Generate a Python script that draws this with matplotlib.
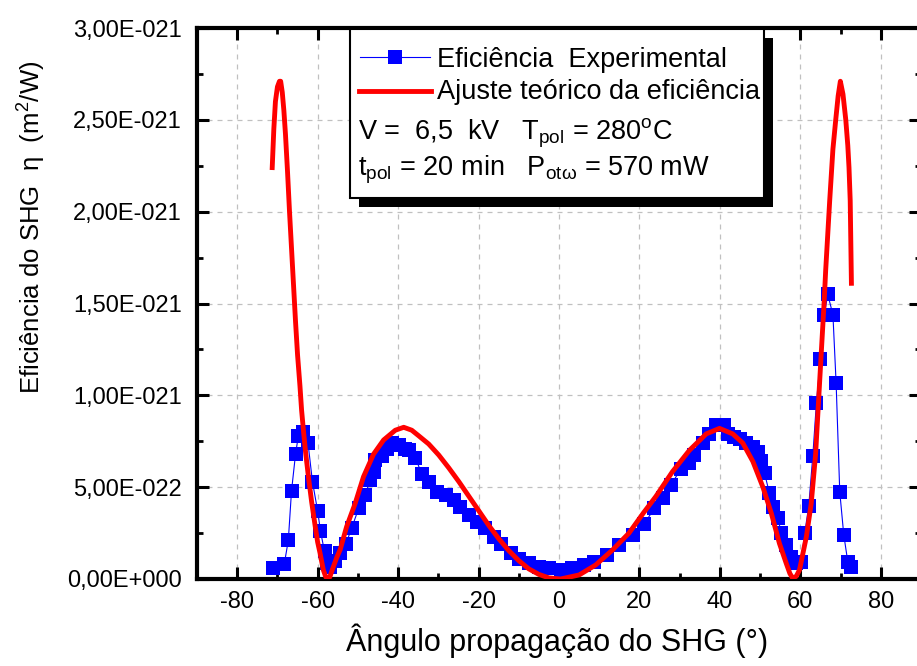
import numpy as np
import matplotlib
matplotlib.use("Agg")
import matplotlib.pyplot as plt
from matplotlib.patches import Rectangle
from matplotlib.lines import Line2D

plt.rcParams['font.family'] = ['Liberation Sans', 'DejaVu Sans']
plt.rcParams['mathtext.fontset'] = 'custom'
plt.rcParams['mathtext.rm'] = 'Liberation Sans'
plt.rcParams['mathtext.it'] = 'Liberation Sans:italic'
plt.rcParams['mathtext.bf'] = 'Liberation Sans:bold'
plt.rcParams['axes.unicode_minus'] = False

# experimental efficiency (units of 1e-21 m^2/W)
ang_exp = [-71.0, -68.3, -67.3, -66.5, -65.5, -64.8, -63.6, -62.4, -61.3, -60.0,
           -59.3, -58.3, -57.7, -56.9, -55.7, -54.4, -53.0, -51.5, -49.8, -48.2,
           -46.9, -46.1, -45.7, -44.0, -42.8, -41.5, -39.9, -38.2, -37.4, -35.7,
           -34.1, -32.4, -30.3, -28.2, -26.2, -24.5, -22.4, -20.4, -18.3, -16.2,
           -14.5, -12.0, -10.0, -7.5, -5.0, -2.5, 0.4, 3.3, 6.2, 8.7,
           12.0, 15.0, 18.3, 21.2, 23.7, 25.8, 27.8, 30.3, 32.4, 33.6,
           35.7, 37.4, 39.0, 41.1, 42.0, 43.6, 44.9, 46.5, 48.2, 49.4,
           50.3, 51.1, 52.3, 53.2, 54.4, 55.3, 56.5, 57.7, 59.0, 60.2,
           61.1, 62.1, 63.1, 64.0, 65.0, 66.0, 66.8, 68.1, 68.9, 69.8,
           70.8, 71.8, 72.5]
eta_exp = [0.058, 0.082, 0.21, 0.48, 0.68, 0.78, 0.80, 0.74, 0.53, 0.37,
           0.26, 0.15, 0.085, 0.065, 0.10, 0.14, 0.19, 0.28, 0.385, 0.46,
           0.54, 0.58, 0.65, 0.67, 0.71, 0.74, 0.73, 0.71, 0.70, 0.66,
           0.57, 0.53, 0.475, 0.46, 0.43, 0.39, 0.35, 0.31, 0.276, 0.23,
           0.19, 0.14, 0.11, 0.085, 0.067, 0.058, 0.05, 0.058, 0.076, 0.094,
           0.13, 0.185, 0.24, 0.30, 0.385, 0.44, 0.51, 0.60, 0.63, 0.675,
           0.74, 0.79, 0.84, 0.84, 0.79, 0.775, 0.76, 0.74, 0.72, 0.69,
           0.64, 0.575, 0.47, 0.39, 0.33, 0.25, 0.185, 0.12, 0.085, 0.094,
           0.25, 0.40, 0.67, 0.96, 1.20, 1.44, 1.55, 1.44, 1.065, 0.475,
           0.24, 0.094, 0.067]

# theoretical fit (units of 1e-21 m^2/W)
ang_fit = [-71.3, -70.9, -70.5, -70.0, -69.5, -69.2, -68.8, -68.4, -68.0, -67.5,
           -67.0, -66.5, -66.0, -65.5, -65.0, -64.4, -64.0, -63.5, -63.0, -62.3,
           -61.5, -60.6, -60.0, -59.4, -58.6, -58.0, -57.5, -57.0, -56.1, -55.2,
           -54.4, -52.8, -50.7, -48.6, -46.1, -43.6, -40.7, -38.6, -36.6, -34.9,
           -32.4, -29.9, -27.4, -24.9, -22.4, -19.9, -17.4, -15.0, -12.5, -10.0,
           -7.5, -5.0, -2.5, 0.4, 5.0, 9.1, 13.3, 17.4, 21.0, 24.1,
           28.2, 32.4, 36.6, 39.9, 43.2, 45.7, 48.2, 50.7, 52.8, 54.8,
           56.5, 57.4, 58.1, 59.0, 59.8, 61.5, 62.7, 63.8, 64.5, 65.2,
           65.9, 66.3, 67.3, 68.1, 68.8, 69.4, 69.95, 70.6, 71.3, 71.8,
           72.1, 72.4, 72.7]
eta_fit = [2.24, 2.45, 2.60, 2.68, 2.71, 2.71, 2.65, 2.55, 2.42, 2.22,
           2.00, 1.80, 1.60, 1.40, 1.22, 1.05, 0.92, 0.80, 0.69, 0.557,
           0.42, 0.285, 0.20, 0.14, 0.05, 0.012, 0.0, 0.01, 0.067, 0.12,
           0.16, 0.285, 0.41, 0.557, 0.68, 0.757, 0.81, 0.826, 0.81, 0.78,
           0.735, 0.675, 0.605, 0.53, 0.45, 0.37, 0.29, 0.22, 0.155, 0.10,
           0.055, 0.025, 0.006, 0.0, 0.022, 0.076, 0.158, 0.25, 0.36, 0.45,
           0.584, 0.70, 0.79, 0.82, 0.79, 0.74, 0.64, 0.50, 0.357, 0.194,
           0.085, 0.03, 0.004, 0.015, 0.05, 0.23, 0.41, 0.68, 0.956, 1.23,
           1.50, 1.68, 2.06, 2.34, 2.50, 2.63, 2.71, 2.64, 2.50, 2.36,
           2.24, 2.06, 1.61]

xticks = [-80, -60, -40, -20, 0, 20, 40, 60, 80]
yticks = [0.0, 0.5, 1.0, 1.5, 2.0, 2.5, 3.0]
ytick_labels = ['0,00E+000', '5,00E-022', '1,00E-021', '1,50E-021',
                '2,00E-021', '2,50E-021', '3,00E-021']

W, H = 917, 666
fig = plt.figure(figsize=(W / 100, H / 100), dpi=100)


def fx(px):
    return px / W


def fy(py):
    return 1 - py / H


ax = fig.add_axes([fx(197), fy(579), (921 - 197) / W, (579 - 28) / H])

scale = 1e-21
ax.plot(ang_exp, np.array(eta_exp) * scale, color='#0000ff', lw=0.8,
        marker='s', markersize=9.5, markeredgewidth=0, zorder=3)
ax.plot(ang_fit, np.array(eta_fit) * scale, color='#ff0000', lw=3.5,
        solid_joinstyle='round', zorder=4)

ax.set_xlim(-90, 90)
ax.set_ylim(0, 3e-21)
ax.set_xticks(xticks)
ax.set_xticks(np.arange(-90, 91, 10), minor=True)
ax.set_yticks(np.array(yticks) * scale)
ax.set_yticklabels(ytick_labels)
ax.set_yticks(np.arange(0, 3.01, 0.25) * scale, minor=True)

ax.tick_params(which='both', direction='in', top=True, right=True, colors='black')
ax.tick_params(which='major', length=8.5, width=2.2)
ax.tick_params(which='minor', length=4, width=2.0)
ax.tick_params(axis='x', which='major', labelsize=17, pad=9)
ax.tick_params(axis='y', which='major', labelsize=17, pad=11)
for sp in ax.spines.values():
    sp.set_linewidth(3)

ax.grid(True, which='major', linestyle=(0, (4, 4)), color='#c0c0c0', lw=0.9)
ax.set_axisbelow(True)

ax.set_xlabel('Ângulo propagação do SHG (°)', fontsize=22, va='center')
ax.xaxis.set_label_coords((557 - 197) / (921 - 197), -(641 - 579) / 551)
ax.set_ylabel('Eficiência do SHG  η  (m$^{2}$/W)', fontsize=18.5)
ax.yaxis.set_label_coords((48 - 197) / (921 - 197), (579 - 227) / 551)

# legend box with hard shadow
fig.add_artist(Rectangle((fx(359), fy(207)), (773 - 359) / W, (207 - 38) / H,
                         transform=fig.transFigure, facecolor='black',
                         edgecolor='none', zorder=5))
fig.add_artist(Rectangle((fx(350), fy(198)), (764 - 350) / W, (198 - 29) / H,
                         transform=fig.transFigure, facecolor='white',
                         edgecolor='black', lw=1.5, zorder=6))
fig.add_artist(Line2D([fx(360), fx(430)], [fy(57), fy(57)], color='#0000ff',
                      lw=0.8, transform=fig.transFigure, zorder=7))
fig.add_artist(Line2D([fx(395)], [fy(57)], color='#0000ff', marker='s',
                      markersize=9.5, markeredgewidth=0, lw=0,
                      transform=fig.transFigure, zorder=7))
fig.add_artist(Line2D([fx(359), fx(431)], [fy(91), fy(91)], color='#ff0000',
                      lw=3.5, transform=fig.transFigure, zorder=7))

fs = 19.5
fig.text(fx(437), fy(67), 'Eficiência  Experimental', fontsize=fs,
         va='baseline', zorder=8)
fig.text(fx(437), fy(99), 'Ajuste teórico da eficiência', fontsize=fs,
         va='baseline', zorder=8)
fig.text(fx(358), fy(139), r'V =  6,5  kV   T$_{\mathrm{pol}}$ = 280$^{\mathrm{o}}$C',
         fontsize=fs, va='baseline', zorder=8)
fig.text(fx(358), fy(175), r't$_{\mathrm{pol}}$ = 20 min   P$_{\mathrm{otω}}$ = 570 mW',
         fontsize=fs, va='baseline', zorder=8)

fig.savefig('out.png', dpi=100)
